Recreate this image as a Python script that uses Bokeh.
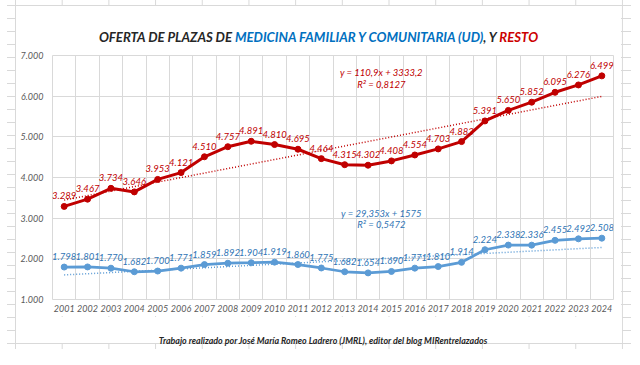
import numpy as np
from bokeh.plotting import figure
from bokeh.models import (ColumnDataSource, LabelSet, Label, FixedTicker, Range1d, Div)
from bokeh.layouts import column
from bokeh.core.properties import value
from bokeh.embed import file_html
from bokeh.resources import INLINE

# ---------------- data ----------------
years = [2001, 2002, 2003, 2004, 2005, 2006, 2007, 2008, 2009, 2010, 2011, 2012,
         2013, 2014, 2015, 2016, 2017, 2018, 2019, 2020, 2021, 2022, 2023, 2024]
resto = [3289, 3467, 3734, 3646, 3953, 4121, 4510, 4757, 4891, 4810, 4695, 4464,
         4315, 4302, 4408, 4554, 4703, 4883, 5391, 5650, 5852, 6095, 6276, 6499]
mfyc_ud = [1798, 1801, 1770, 1682, 1700, 1771, 1859, 1892, 1904, 1919, 1860, 1775,
           1682, 1654, 1690, 1771, 1810, 1914, 2224, 2338, 2336, 2455, 2492, 2508]
year_labels = ["2001", "2002", "2003", "2004", "2005", "2006", "2007", "2008", "2009",
               "2010", "2011", "2012", "2013", "2014", "2015", "2016", "2017", "2018",
               "2019", "2020", "2021", "2022", "2023", "2024"]
y_ticks = [1000, 2000, 3000, 4000, 5000, 6000, 7000]
y_tick_labels = ["1.000", "2.000", "3.000", "4.000", "5.000", "6.000", "7.000"]
resto_eq = ["y = 110,9x + 3333,2", "R² = 0,8127"]
ud_eq = ["y = 29,353x + 1575", "R² = 0,5472"]
title_parts = ["OFERTA DE PLAZAS DE ", "MEDICINA FAMILIAR Y COMUNITARIA (UD)", ", Y ", "RESTO"]
footer_text = "Trabajo realizado por José María Romeo Ladrero (JMRL), editor del blog MIRentrelazados"

# ---------------- styles ----------------
RED = "#C00000"
BLUE = "#5B9BD5"
BLUE_TXT = "#2F75B5"
GRID = "#d9d9d9"
TICK_TXT = "#595959"
FONT = "Lato"

def fmt(v):
    return f"{v:,}".replace(",", ".")

idx = np.arange(1, len(years) + 1)
r_fit = np.polyfit(idx, resto, 1)
u_fit = np.polyfit(idx, mfyc_ud, 1)
resto_trend = np.polyval(r_fit, idx)
ud_trend = np.polyval(u_fit, idx)

p = figure(width=624, height=279, output_backend="svg", toolbar_location=None,
           x_range=Range1d(years[0] - 0.5, years[-1] + 0.5),
           y_range=Range1d(y_ticks[0], y_ticks[-1]),
           min_border_left=45, min_border_right=18, min_border_top=8, min_border_bottom=27,
           background_fill_color="white", border_fill_color=None)
p.outline_line_color = GRID

p.xgrid.ticker = FixedTicker(ticks=[y - 0.5 for y in years] + [years[-1] + 0.5])
p.ygrid.ticker = FixedTicker(ticks=y_ticks)
p.grid.grid_line_color = GRID
p.grid.grid_line_width = 1

p.xaxis.ticker = FixedTicker(ticks=years)
p.xaxis.major_label_overrides = {y: l for y, l in zip(years, year_labels)}
p.yaxis.ticker = FixedTicker(ticks=y_ticks)
p.yaxis.major_label_overrides = {t: l for t, l in zip(y_ticks, y_tick_labels)}
for ax in (p.xaxis, p.yaxis):
    ax.axis_line_color = None
    ax.major_tick_line_color = None
    ax.minor_tick_line_color = None
    ax.major_tick_out = 0
    ax.major_tick_in = 0
    ax.major_label_text_font = FONT
    ax.major_label_text_font_style = "italic"
    ax.major_label_text_font_size = "9px"
    ax.major_label_text_color = TICK_TXT
p.xaxis.major_label_standoff = 5
p.yaxis.major_label_standoff = 9

# trend lines
p.line(years, resto_trend, line_color=RED, line_width=1.5, line_dash="1 2")
p.line(years, ud_trend, line_color=BLUE, line_width=1.5, line_dash="1 2")

# series
p.line(years, resto, line_color=RED, line_width=3)
p.scatter(years, resto, size=6, fill_color=RED, line_color=RED)
p.line(years, mfyc_ud, line_color=BLUE, line_width=2.75)
p.scatter(years, mfyc_ud, size=6, fill_color=BLUE, line_color=BLUE)

src_r = ColumnDataSource(dict(x=years, y=resto, t=[fmt(v) for v in resto]))
src_u = ColumnDataSource(dict(x=years, y=mfyc_ud, t=[fmt(v) for v in mfyc_ud]))
for src, col in ((src_r, RED), (src_u, BLUE_TXT)):
    p.add_layout(LabelSet(x="x", y="y", text="t", source=src, y_offset=7,
                          text_align="center", text_baseline="bottom",
                          text_font=value(FONT), text_font_style="italic",
                          text_font_size="9.5px", text_color=col))

# equation labels (positions in data space)
for txt, yy, col in ((resto_eq[0], 6582, RED), (resto_eq[1], 6287, RED),
                     (ud_eq[0], 3115, BLUE_TXT), (ud_eq[1], 2844, BLUE_TXT)):
    p.add_layout(Label(x=2014.57, y=yy, text=txt, text_align="center", text_baseline="middle",
                       text_font=FONT, text_font_style="italic",
                       text_font_size="9.5px", text_color=col))

# multi-colour title (HTML)
title_col = ["#262626", "#0070C0", "#262626", "#CC0000"]
title_html = "".join(f'<span style="color:{c}">{t}</span>' for t, c in zip(title_parts, title_col))
title_div = Div(text=title_html, width=624, height=37,
                styles={"font-family": "Lato, sans-serif",
                        "font-size": "13.2px", "font-style": "italic", "font-weight": "bold",
                        "text-align": "center", "white-space": "pre",
                        "padding-top": "24px", "padding-right": "11px",
                        "line-height": "16px", "box-sizing": "border-box"})

footer = Div(text=footer_text, width=624, height=33,
             styles={"font-family": "Lato, sans-serif",
                     "font-size": "8.9px", "font-style": "italic", "font-weight": "bold",
                     "color": "#262626", "text-align": "center", "line-height": "20px",
                     "padding-right": "2px", "box-sizing": "border-box"})

# spreadsheet look: white chart box + white footer cell over a grid of cells
sheet_css = {
    "position": "relative",
    "left": "7px",
    "background-color": "white",
    "background-image": "linear-gradient(#ffffff, #ffffff), linear-gradient(#ffffff, #ffffff), "
                        "linear-gradient(to right, #d9d9d9 1px, transparent 1px), "
                        "linear-gradient(to bottom, #d9d9d9 1px, transparent 1px)",
    "background-size": "605px 310px, 606px 26px, 46.7px 13px, 46.7px 13px",
    "background-position": "9px 6px, 9px 317px, 8px 5px, 8px 5px",
    "background-repeat": "no-repeat, no-repeat, repeat, repeat",
}
page = column(title_div, p, footer, width=624, height=349, spacing=0, styles=sheet_css)

open("out.html", "w").write(file_html(page, INLINE))
